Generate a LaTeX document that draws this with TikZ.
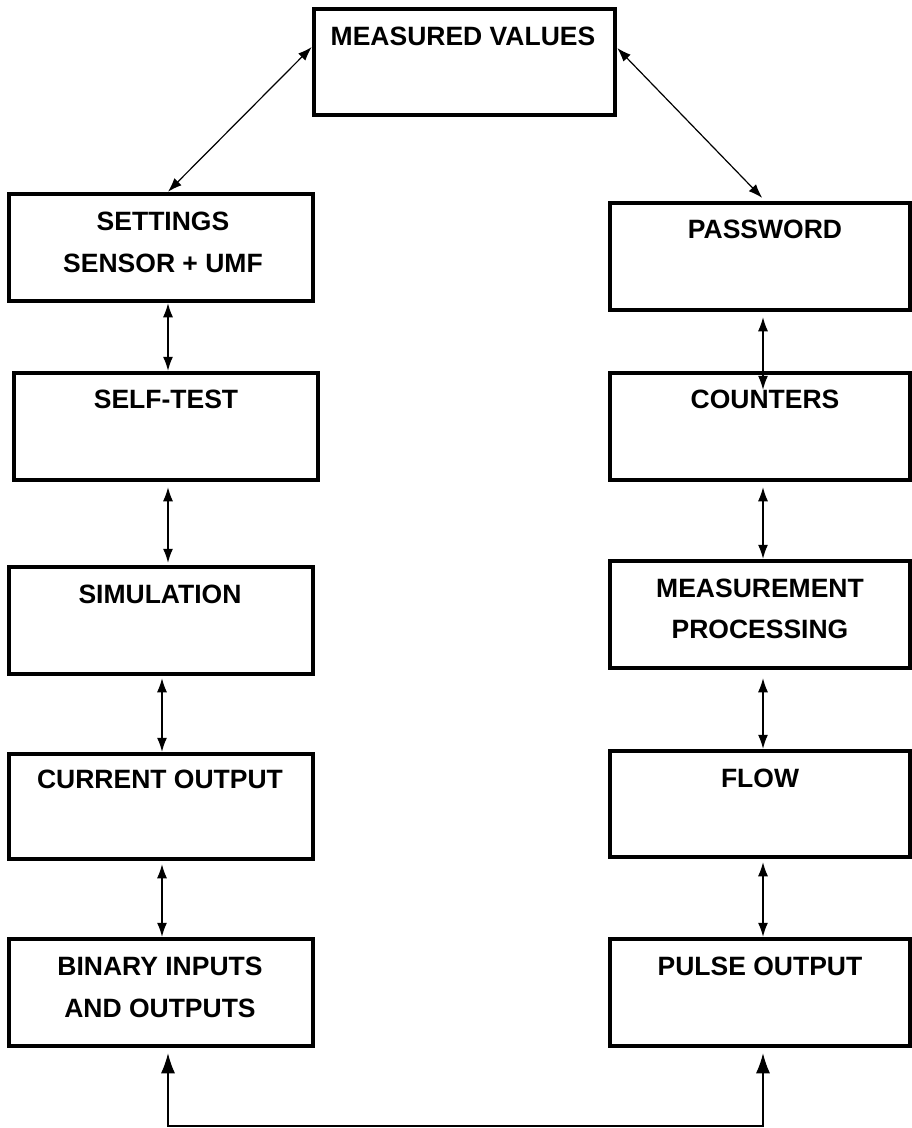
\documentclass[tikz,border=0pt]{standalone}
\usepackage{fontspec}
\setmainfont{Liberation Sans}
\usetikzlibrary{arrows.meta,calc}
\tikzset{
  box/.style={draw, line width=4.5pt, minimum width=#1, minimum height=107pt, inner sep=0pt},
  box/.default=304pt,
  lbl/.style={anchor=base, font=\fontsize{26.5}{30}\selectfont\bfseries, inner sep=0pt},
  dar/.style={line width=1.2pt, {Latex[length=14pt,width=10pt]}-{Latex[length=14pt,width=10pt]}},
  bigdar/.style={line width=1.2pt, {Latex[length=20pt,width=14pt]}-{Latex[length=20pt,width=14pt]}}
}
\begin{document}
\begin{tikzpicture}[x=1pt,y=-1pt]
\useasboundingbox (0,0) rectangle (912,1128);
% boxes
\node[box=301pt, minimum height=106pt] (mv) at (464.5,62) {};
\node[box] (set) at (161,247.5) {};
\node[box=300pt] (pass) at (760,256.5) {};
\node[box] (self) at (166,426.5) {};
\node[box=300pt] (cnt) at (760,426.5) {};
\node[box] (sim) at (161,620.5) {};
\node[box=300pt] (meas) at (760,614.5) {};
\node[box, minimum height=105pt] (cur) at (161,806.5) {};
\node[box=300pt, minimum height=106pt] (flow) at (760,804) {};
\node[box] (bin) at (161,992.5) {};
\node[box=300pt] (pulse) at (760,992.5) {};
% labels
\node[lbl] (tmv) at (463,45) {MEASURED VALUES};
\node[lbl] (tset1) at (163,230) {SETTINGS};
\node[lbl] (tset2) at (163,272) {SENSOR + UMF};
\node[lbl] (tpass) at (765,238) {PASSWORD};
\node[lbl] (tself) at (166,408) {SELF-TEST};
\node[lbl] (tcnt) at (765,408) {COUNTERS};
\node[lbl] (tsim) at (160,603) {SIMULATION};
\node[lbl] (tmeas1) at (760,597) {MEASUREMENT};
\node[lbl] (tmeas2) at (760,638) {PROCESSING};
\node[lbl] (tcur) at (160,788) {CURRENT OUTPUT};
\node[lbl] (tflow) at (760,787) {FLOW};
\node[lbl] (tbin1) at (160,975) {BINARY INPUTS};
\node[lbl] (tbin2) at (160,1017) {AND OUTPUTS};
\node[lbl] (tpulse) at (760,975) {PULSE OUTPUT};
% connectors
\draw[dar] (mv.west |- 0,47) -- (set.north -| 168,0);
\draw[dar, shorten >=4pt] (mv.east |- 0,48) -- (pass.north -| 765,0);
\draw[dar] (set.south -| 168,0) -- (self.north -| 168,0);
\draw[dar, shorten <=5pt, shorten >=2pt] (self.south -| 168,0) -- (sim.north -| 168,0);
\draw[dar, shorten <=2pt] (sim.south -| 162,0) -- (cur.north -| 162,0);
\draw[dar, shorten <=3pt] (cur.south -| 162,0) -- (bin.north -| 162,0);
\draw[dar, shorten <=5pt, shorten >=-19pt] (pass.south -| 763,0) -- (cnt.north -| 763,0);
\draw[dar, shorten <=5pt] (cnt.south -| 763,0) -- (meas.north -| 763,0);
\draw[dar, shorten <=8pt] (meas.south -| 763,0) -- (flow.north -| 763,0);
\draw[dar, shorten <=3pt] (flow.south -| 763,0) -- (pulse.north -| 763,0);
\coordinate (bot) at (465,1126);
\draw[bigdar, shorten <=5pt, shorten >=5pt] (bin.south -| 168,0) |- (bot) -| (pulse.south -| 763,0);
\end{tikzpicture}
\end{document}
